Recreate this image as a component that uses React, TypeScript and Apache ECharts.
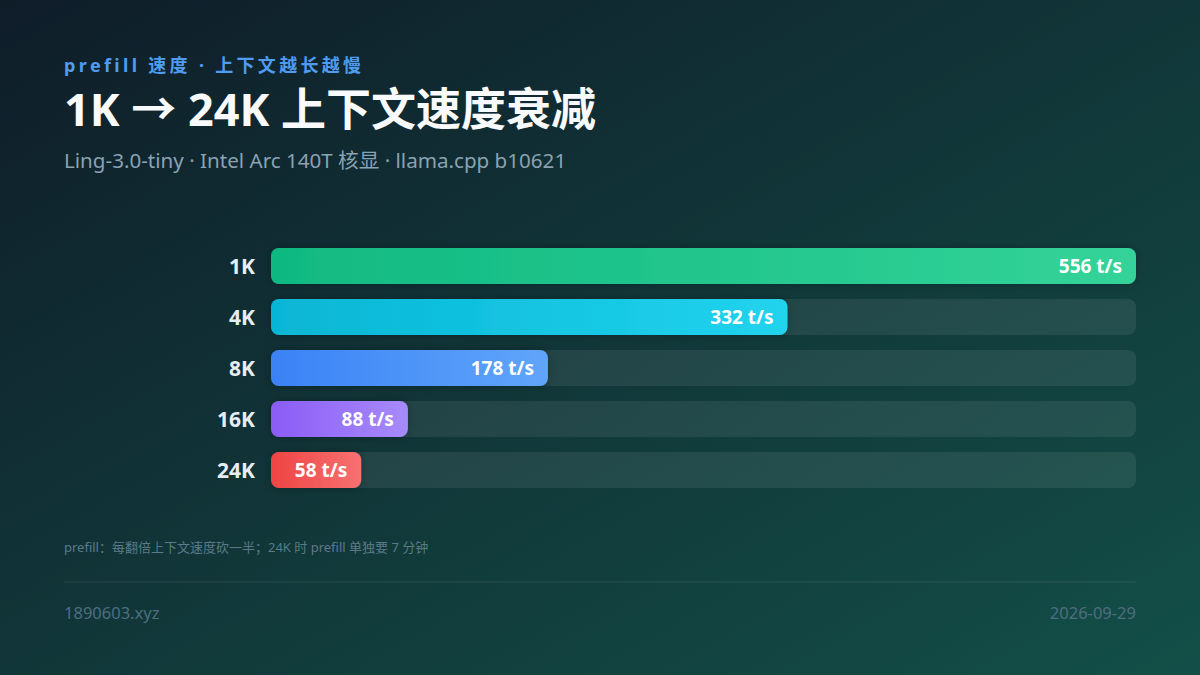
import { useEffect, useRef } from 'react';
import * as echarts from 'echarts';

const contexts = ['1K', '4K', '8K', '16K', '24K'];
const speeds = [556, 332, 178, 88, 58];
const barColors = [
    ['#10b981', '#34d399'],
    ['#06b6d4', '#22d3ee'],
    ['#3b82f6', '#60a5fa'],
    ['#8b5cf6', '#a78bfa'],
    ['#ef4444', '#f87171'],
];
const kicker = 'prefill 速度 · 上下文越长越慢';
const title = '1K → 24K 上下文速度衰减';
const subtitle = 'Ling-3.0-tiny · Intel Arc 140T 核显 · llama.cpp b10621';
const note = 'prefill：每翻倍上下文速度砍一半；24K 时 prefill 单独要 7 分钟';
const site = '1890603.xyz';
const dateText = '2026-09-29';

const FONT = '"Noto Sans", "Noto Sans CJK SC", sans-serif';

// zrender 没有 letterSpacing，逐字排开
function spacedText(text: string, font: string, spacing: number, x: number, y: number, fill: string) {
    const ctx = document.createElement('canvas').getContext('2d')!;
    ctx.font = font;
    const children: any[] = [];
    let cx = x;
    for (const ch of Array.from(text)) {
        if (ch !== ' ') {
            children.push({ type: 'text', x: cx, y, style: { text: ch, font, fill } });
        }
        cx += ctx.measureText(ch).width + spacing;
    }
    return { type: 'group', children };
}

export default function App() {
    const chartRef = useRef<HTMLDivElement>(null);

    useEffect(() => {
        if (!chartRef.current) return;
        const chart = echarts.init(chartRef.current, undefined, { renderer: 'svg' });

        const option = {
            animation: false,
            backgroundColor: new echarts.graphic.LinearGradient(0, 0, 1, 1, [
                { offset: 0, color: '#0f1d29' },
                { offset: 1, color: '#134f48' },
            ]),
            textStyle: { fontFamily: FONT },
            grid: { left: 271, right: 64, top: 240.5, height: 255 },
            xAxis: { type: 'value', min: 0, max: 556, show: false },
            yAxis: {
                type: 'category',
                data: contexts,
                inverse: true,
                axisLine: { show: false },
                axisTick: { show: false },
                axisLabel: {
                    margin: 16,
                    color: '#e6eef3',
                    fontSize: 21,
                    fontWeight: 'bold',
                    fontFamily: FONT,
                },
            },
            series: [{
                type: 'bar',
                barWidth: 36,
                showBackground: true,
                backgroundStyle: { color: 'rgba(255,255,255,0.08)', borderRadius: 8 },
                data: speeds.map((v, i) => ({
                    value: v,
                    itemStyle: {
                        borderRadius: 8,
                        color: new echarts.graphic.LinearGradient(0, 0, 1, 0, [
                            { offset: 0, color: barColors[i][0] },
                            { offset: 1, color: barColors[i][1] },
                        ]),
                        shadowColor: 'rgba(0,0,0,0.25)',
                        shadowBlur: 8,
                    },
                })),
                label: {
                    show: true,
                    position: 'insideRight',
                    distance: 14,
                    color: '#ffffff',
                    fontSize: 19,
                    fontWeight: 'bold',
                    fontFamily: FONT,
                    formatter: (p: any) => p.value + ' t/s',
                },
            }],
            graphic: [
                spacedText(kicker, `bold 18px ${FONT}`, 3.3, 64, 56, '#4f9cf0'),
                {
                    type: 'text', left: 64, top: 86,
                    style: { text: title, fill: '#f8fafc', font: `bold 45px ${FONT}` },
                },
                {
                    type: 'text', left: 64, top: 150,
                    style: { text: subtitle, fill: '#8ba2b2', font: `20.6px ${FONT}` },
                },
                {
                    type: 'text', left: 64, top: 540,
                    style: { text: note, fill: '#5b7a88', font: `13px ${FONT}` },
                },
                {
                    type: 'line',
                    shape: { x1: 64, y1: 582, x2: 1136, y2: 582 },
                    style: { stroke: 'rgba(255,255,255,0.1)', lineWidth: 1 },
                },
                {
                    type: 'text', left: 64, top: 604,
                    style: { text: site, fill: '#4e6e80', font: `16.5px ${FONT}` },
                },
                {
                    type: 'text', right: 64, top: 604,
                    style: { text: dateText, fill: '#4e6e80', font: `16.5px ${FONT}` },
                },
            ],
        };

        chart.setOption(option);

        return () => {
            chart.dispose();
        };
    }, []);

    return (
        <div
            ref={chartRef}
            style={{ position: 'absolute', left: 0, top: 0, width: '1200px', height: '675px' }}
        />
    );
}
